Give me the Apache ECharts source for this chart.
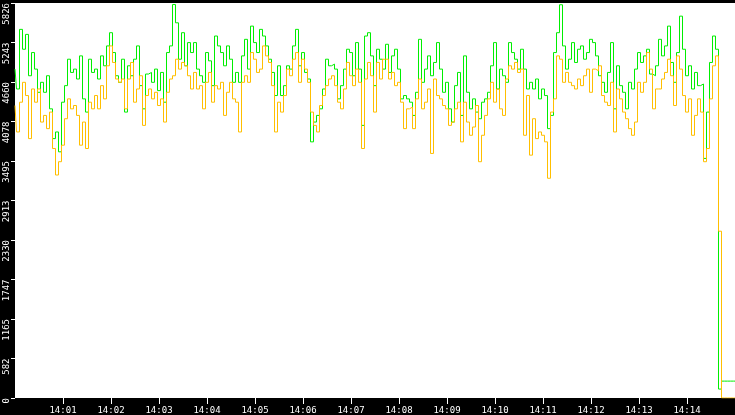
<!DOCTYPE html>
<html>
<head>
<meta charset="utf-8">
<script src="https://cdn.jsdelivr.net/npm/echarts@6/dist/echarts.min.js"></script>
<style>
  html, body { margin: 0; padding: 0; background: #000; }
  #chart { width: 735px; height: 415px; }
</style>
</head>
<body>
<div id="chart"></div>
<script>
// samples every 3.75 s starting 14:00:00
var startTime = Date.UTC(2024, 0, 1, 14, 0, 0);
var stepMs = 3750;

var greenValues = [
  4851, 4558, 5437, 5144, 5363, 4753, 5095, 4851, 4509, 4656,
  4509, 4753, 4265, 3826, 3924, 3631, 4363, 4607, 4997, 4802,
  4851, 4705, 5046, 4412, 4217, 4997, 4802, 4851, 4705, 5046,
  4900, 5193, 5388, 5095, 4753, 4656, 4997, 4217, 4900, 4753,
  4997, 5193, 4607, 4265, 4778, 4802, 4656, 4851, 4534, 4802,
  4363, 5095, 5193, 5803, 5534, 4997, 5388, 4900, 5242, 5095,
  5242, 4851, 4753, 4656, 5095, 4973, 4607, 5339, 5193, 5095,
  4900, 5193, 4997, 4656, 4802, 4656, 5046, 5290, 4851, 5485,
  5242, 5095, 5437, 5339, 5193, 4997, 4802, 4461, 4900, 4461,
  4607, 4900, 4851, 5193, 5437, 4900, 5095, 4802, 4705, 3778,
  4070, 4168, 4265, 4558, 4997, 4900, 4924, 4851, 4412, 4607,
  4851, 5144, 5095, 4753, 5242, 4851, 4021, 5339, 5388, 5046,
  4607, 5144, 4997, 4851, 5217, 4802, 5046, 5144, 4851, 4412,
  4461, 4412, 4363, 4168, 4509, 5290, 4656, 4851, 5046, 4753,
  4949, 5242, 4851, 4509, 4656, 4265, 4070, 4607, 4802, 4168,
  5046, 4509, 4265, 4412, 4217, 4119, 4363, 4412, 4509, 4900,
  5242, 4558, 4851, 4753, 4656, 5242, 5095, 4997, 4851, 5144,
  4851, 4558, 4656, 4558, 4705, 4412, 4558, 4461, 3973, 4168,
  5095, 5388, 5800, 5193, 4851, 4997, 5242, 4949, 5144, 5193,
  4997, 5095, 5290, 5242, 5046, 4753, 4656, 4509, 4802, 5242,
  4265, 4900, 4607, 4509, 4265, 4656, 4558, 4851, 5095, 4949,
  5046, 5144, 4778, 4753, 4900, 5290, 5046, 5193, 5485, 4949,
  4656, 5095, 5632, 5144, 4753, 4900, 4558, 4802, 4607, 4631,
  3534, 4217, 4949, 5339, 5144,
  132, 249, 249, 249, 249, 249
];

var orangeValues = [
  4314, 3924, 4363, 4656, 4461, 3826, 4558, 4363, 4558, 4070,
  4168, 3973, 4217, 3680, 3289, 3485, 3729, 4119, 4412, 4265,
  4314, 4168, 3729, 4070, 3680, 4363, 4265, 4461, 4265, 4607,
  4412, 4900, 5193, 4949, 4705, 4656, 4705, 4265, 4705, 4949,
  4363, 4558, 4753, 4021, 4461, 4558, 4412, 4509, 4314, 4412,
  4070, 4509, 4705, 4753, 4997, 4851, 4949, 4900, 4753, 4558,
  4802, 4558, 4607, 4265, 4656, 4802, 4363, 4607, 4558, 4656,
  4168, 4509, 4656, 4412, 4363, 3924, 4656, 4753, 4656, 5095,
  4997, 4802, 4851, 5193, 5046, 4949, 4607, 3924, 4363, 4217,
  4461, 4851, 4753, 4997, 5095, 4656, 4997, 4851, 4656, 4217,
  4021, 3924, 4314, 4461, 4607, 4705, 4753, 4607, 4363, 4265,
  4558, 4949, 4753, 4607, 4851, 4656, 3680, 4705, 4949, 4753,
  4217, 4949, 4705, 4997, 4997, 4705, 4802, 4607, 4656, 4363,
  3973, 4265, 4290, 3973, 4412, 4705, 4265, 4363, 4558, 3607,
  4705, 4461, 4412, 4314, 4265, 4021, 4070, 4265, 4363, 3778,
  4363, 4070, 3875, 3997, 4314, 3485, 3875, 4168, 4412, 4656,
  4363, 4558, 4265, 4168, 4705, 4900, 4851, 4949, 4802, 4851,
  3875, 4461, 3582, 4119, 3826, 3924, 3875, 3778, 3241, 4217,
  4412, 5046, 4997, 4656, 4802, 4656, 4607, 4558, 4705, 4607,
  4753, 4851, 4509, 4851, 4827, 4900, 4461, 4363, 4314, 4656,
  3924, 4558, 4412, 4217, 4119, 3973, 3875, 4070, 4656, 4509,
  4656, 5095, 4851, 4265, 4558, 4558, 4705, 4802, 4997, 4753,
  4314, 5046, 4851, 4461, 4217, 4412, 3875, 4168, 4412, 4217,
  3485, 3680, 4412, 4900, 5046,
  2460, 0, 0, 0, 0, 0
];

var yTickLabels = ['0', '582', '1165', '1747', '2330', '2913', '3495', '4078', '4660', '5243', '5826'];
var yMax = 5826;
var yStep = 582.6;

function toPairs(vals) {
  return vals.map(function (v, i) { return [startTime + i * stepMs, v]; });
}

function pad2(n) { return n < 10 ? '0' + n : '' + n; }

var chart = echarts.init(document.getElementById('chart'));

var labelFont = 'DejaVu Sans Mono';

chart.setOption({
  animation: false,
  backgroundColor: '#000',
  grid: {
    left: 15, right: 0, top: 0, bottom: 17,
    show: true, backgroundColor: '#fff', borderWidth: 0
  },
  xAxis: {
    type: 'value',
    min: startTime,
    max: startTime + 15 * 60000,
    interval: 60000,
    splitLine: { show: false },
    axisLine: { show: false },
    axisTick: { show: true, length: 6, lineStyle: { color: '#fff', width: 1 } },
    axisLabel: {
      showMinLabel: false,
      showMaxLabel: false,
      color: '#fff',
      fontFamily: labelFont,
      fontSize: 9,
      margin: 8,
      formatter: function (v) {
        var d = new Date(v);
        return pad2(d.getUTCHours()) + ':' + pad2(d.getUTCMinutes());
      }
    }
  },
  yAxis: {
    type: 'value',
    min: 0,
    max: yMax,
    interval: yStep,
    splitLine: { show: false },
    axisLine: { show: false },
    axisTick: { show: true, length: 4, lineStyle: { color: '#fff', width: 1 } },
    axisLabel: {
      rotate: 90,
      align: 'right',
      verticalAlign: 'bottom',
      margin: 4,
      color: '#fff',
      fontFamily: labelFont,
      fontSize: 9,
      formatter: function (v) {
        return yTickLabels[Math.round(v / yStep)];
      }
    }
  },
  series: [
    {
      name: 'green',
      type: 'line',
      step: 'middle',
      data: toPairs(greenValues),
      showSymbol: false,
      lineStyle: { color: '#00ee00', width: 1 },
      itemStyle: { color: '#00ee00' }
    },
    {
      name: 'orange',
      type: 'line',
      step: 'middle',
      data: toPairs(orangeValues),
      showSymbol: false,
      lineStyle: { color: '#ffbf00', width: 1 },
      itemStyle: { color: '#ffbf00' }
    }
  ]
});
</script>
</body>
</html>
